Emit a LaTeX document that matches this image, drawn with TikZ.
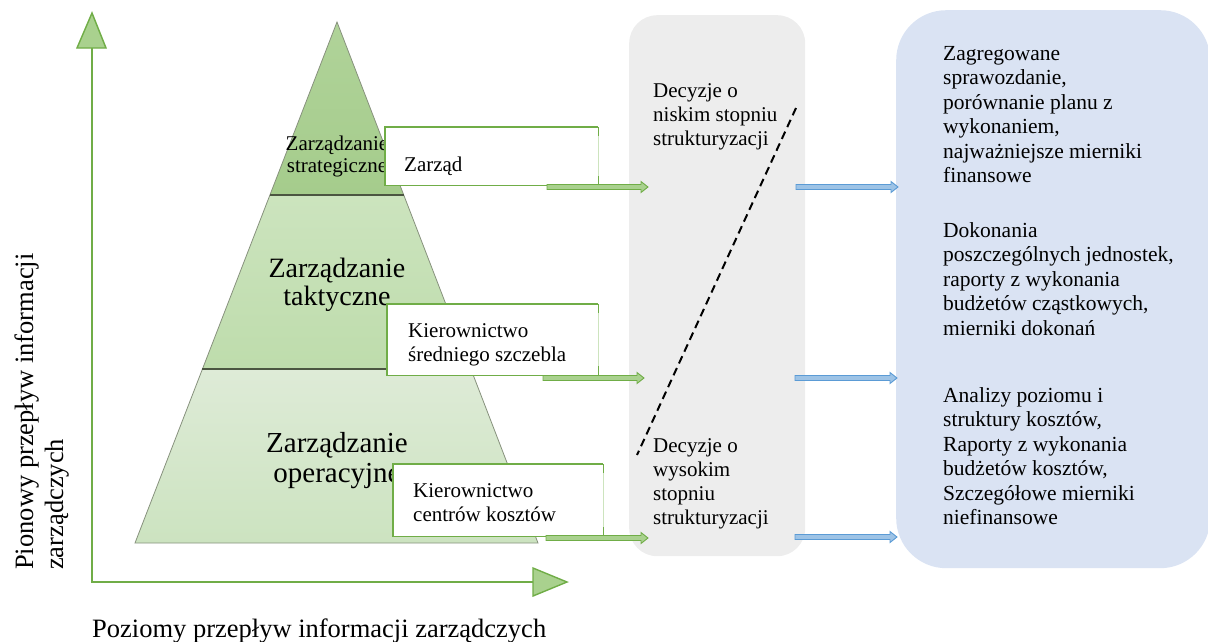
\documentclass[tikz,border=0pt]{standalone}
\usepackage{fontspec}
\setmainfont{LiberationSerif}[Extension=.ttf, UprightFont=*-Regular, BoldFont=*-Bold, ItalicFont=*-Italic, BoldItalicFont=*-BoldItalic]
\usetikzlibrary{calc}

\definecolor{gline}{RGB}{112,173,71}
\definecolor{gfill}{RGB}{169,209,142}
\definecolor{pyrtopA}{RGB}{176,211,153}
\definecolor{pyrtopB}{RGB}{165,204,140}
\definecolor{pyrmidA}{RGB}{204,228,190}
\definecolor{pyrmidB}{RGB}{190,220,172}
\definecolor{pyrbotA}{RGB}{222,235,215}
\definecolor{pyrbotB}{RGB}{204,227,192}
\definecolor{pyredge}{RGB}{135,145,125}
\definecolor{pyrsep}{RGB}{75,85,65}
\definecolor{graybox}{RGB}{237,237,237}
\definecolor{bluebox}{RGB}{218,227,243}
\definecolor{bline}{RGB}{91,155,213}
\definecolor{bfill}{RGB}{157,195,230}
\definecolor{edgelight}{RGB}{205,228,190}

% hollow block arrow between two named points
\newcommand{\blockarrow}[3]{%
  \draw[#1] ($(#2)+(0,2.5)$) -- ($(#3)+(-7,2.5)$) -- ($(#3)+(-7,5.5)$) -- (#3)
    -- ($(#3)+(-7,-5.5)$) -- ($(#3)+(-7,-2.5)$) -- ($(#2)+(0,-2.5)$) -- cycle;}

% white label box with a faint right edge
\newcommand{\labelbox}[1]{%
  \draw[gline, line width=1.2pt] (#1.north east) -- (#1.north west) -- (#1.south west) -- (#1.south east);
  \draw[edgelight, line width=1.2pt] (#1.north east) -- (#1.south east);
  \draw[gline, line width=1.2pt] (#1.north east) -- ++(0,9);
  \draw[gline, line width=1.2pt] (#1.south east) -- ++(0,-9);}

\begin{document}
\begin{tikzpicture}[x=1pt, y=-1pt,
  txt/.style={font=\fontsize{21}{24}\selectfont, inner sep=0pt, align=left, anchor=north west},
  bluetxt/.style={font=\fontsize{21.5}{24.5}\selectfont, inner sep=0pt, align=left, anchor=north west},
  wbox/.style={fill=white, draw=none, inner sep=0pt, anchor=north west},
  axisline/.style={gline, line width=2pt},
  axishead/.style={fill=gfill, draw=gline, line width=1.4pt, line join=miter},
  greenarrow/.style={fill=gfill, draw=gline, line width=0.9pt},
  bluearrow/.style={fill=bfill, draw=bline, line width=0.9pt},
  sepline/.style={pyrsep, line width=2pt},
]
\useasboundingbox (0,0) rectangle (1208,641);

% ---------- axes ----------
\coordinate (origin) at (92,582);
\coordinate (vtop) at (92,48);
\coordinate (hend) at (533,582);
\draw[axisline] (vtop) -- (origin) -- (hend);
\draw[axishead] (77,48) -- (92,13) -- (106,48) -- cycle;
\draw[axishead] (533,568) -- (567,582) -- (533,596) -- cycle;

\node[font=\fontsize{26.5}{30}\selectfont, inner sep=0pt, align=left, rotate=90,
      anchor=north west] (vlabel) at (12,570) {\strut Pionowy przepływ informacji\\zarządczych};
\node[font=\fontsize{26.5}{30}\selectfont, inner sep=0pt, anchor=base west]
      (hlabel) at (92,637) {Poziomy przepływ informacji zarządczych};

% ---------- pyramid ----------
\coordinate (apex) at (337,22);
\coordinate (bl) at (135,543);
\coordinate (br) at (538,543);
\coordinate (l1) at ($(apex)!0.332!(bl)$);
\coordinate (r1) at ($(apex)!0.332!(br)$);
\coordinate (l2) at ($(apex)!0.666!(bl)$);
\coordinate (r2) at ($(apex)!0.666!(br)$);

\shade[top color=pyrtopA, bottom color=pyrtopB] (apex) -- (r1) -- (l1) -- cycle;
\shade[top color=pyrmidA, bottom color=pyrmidB] (l1) -- (r1) -- (r2) -- (l2) -- cycle;
\shade[top color=pyrbotA, bottom color=pyrbotB] (l2) -- (r2) -- (br) -- (bl) -- cycle;
\draw[pyredge, line width=0.8pt] (apex) -- (br) -- (bl) -- cycle;
\draw[sepline] (l1) -- (r1);
\draw[sepline] (l2) -- (r2);

\node[font=\fontsize{21}{22}\selectfont, inner sep=0pt, align=center, anchor=north]
  (strat) at (337,134.6) {\strut Zarządzanie\\strategiczne};
\node[font=\fontsize{28}{28}\selectfont, inner sep=0pt, align=center, anchor=north]
  (takt) at (337,257.4) {\strut Zarządzanie\\taktyczne};
\node[font=\fontsize{29}{30}\selectfont, inner sep=0pt, align=center, anchor=north]
  (oper) at (337,431) {\strut Zarządzanie\\operacyjne};

% ---------- management level boxes ----------
\node[wbox, minimum width=213pt, minimum height=58pt] (zarzad) at (385,127) {};
\labelbox{zarzad}
\node[txt] (zarzadtxt) at (404,154.2) {\strut Zarząd};

\node[wbox, minimum width=211pt, minimum height=71pt] (srednie) at (387,304) {};
\labelbox{srednie}
\node[txt] (srednietxt) at (408,320.2) {\strut Kierownictwo\\średniego szczebla};

\node[wbox, minimum width=210pt, minimum height=72pt] (centra) at (393,464) {};
\labelbox{centra}
\node[txt] (centratxt) at (413,480.2) {\strut Kierownictwo\\centrów kosztów};

% ---------- decision panel ----------
\node[fill=graybox, draw=none, rounded corners=28pt, inner sep=0pt, anchor=north west,
      minimum width=176pt, minimum height=541pt] (decyzje) at (629,15) {};
\node[txt] (niski) at (653,80.2) {\strut Decyzje o\\niskim stopniu\\strukturyzacji};
\node[txt] (wysoki) at (653,435.2) {\strut Decyzje o\\wysokim\\stopniu\\strukturyzacji};

\coordinate (dtop) at (796,108);
\coordinate (dbot) at (637,455);
\draw[black, line width=2pt, dash pattern=on 8pt off 5pt] (dtop) -- (dbot);

% ---------- information panel ----------
\node[fill=bluebox, draw=none, rounded corners=50pt, inner sep=0pt, anchor=north west,
      minimum width=314pt, minimum height=558pt] (info) at (896,10) {};
\node[bluetxt] (info1) at (943,42.85) {\strut Zagregowane\\sprawozdanie,\\porównanie planu z\\wykonaniem,\\najważniejsze mierniki\\finansowe};
\node[bluetxt] (info2) at (943,219.85) {\strut Dokonania\\poszczególnych jednostek,\\raporty z wykonania\\budżetów cząstkowych,\\mierniki dokonań};
\node[bluetxt] (info3) at (943,384.85) {\strut Analizy poziomu i\\struktury kosztów,\\Raporty z wykonania\\budżetów kosztów,\\Szczegółowe mierniki\\niefinansowe};

% ---------- arrows ----------
\coordinate (g1s) at (547,187);  \coordinate (g1e) at (648,187);
\coordinate (g2s) at (543,378);  \coordinate (g2e) at (644,378);
\coordinate (g3s) at (546,538);  \coordinate (g3e) at (648,538);
\blockarrow{greenarrow}{g1s}{g1e}
\blockarrow{greenarrow}{g2s}{g2e}
\blockarrow{greenarrow}{g3s}{g3e}

\coordinate (b1s) at (796,187);  \coordinate (b1e) at (898,187);
\coordinate (b2s) at (795,378);  \coordinate (b2e) at (897,378);
\coordinate (b3s) at (795,537);  \coordinate (b3e) at (897,537);
\blockarrow{bluearrow}{b1s}{b1e}
\blockarrow{bluearrow}{b2s}{b2e}
\blockarrow{bluearrow}{b3s}{b3e}
\end{tikzpicture}
\end{document}
